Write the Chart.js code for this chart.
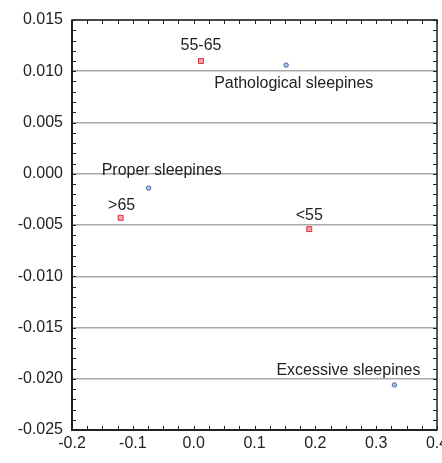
<!DOCTYPE html>
<html lang="en">
<head>
  <meta charset="UTF-8">
  <title>Sleepiness and age groups</title>
  <script src="https://cdn.jsdelivr.net/npm/chart.js"></script>
  <style>
    html, body {
      margin: 0;
      padding: 0;
      background: #fff;
    }
    #wrap {
      width: 442px;
      height: 463px;
    }
  </style>
</head>
<body>
  <div id="wrap"><canvas id="plot"></canvas></div>

  <script>
    // age groups (red squares)
    const ageLabels = ['55-65', '>65', '<55'];
    const ageX = [0.012, -0.120, 0.190];
    const ageY = [0.0110, -0.0043, -0.0054];

    // sleepiness groups (blue circles)
    const sleepLabels = ['Pathological sleepines', 'Proper sleepines', 'Excessive sleepines'];
    const sleepX = [0.152, -0.074, 0.330];
    const sleepY = [0.0106, -0.0014, -0.0206];

    // axis tick labels
    const xTicks = ['-0.2', '-0.1', '0.0', '0.1', '0.2', '0.3', '0.4'];
    const yTicks = ['-0.025', '-0.020', '-0.015', '-0.010', '-0.005', '0.000', '0.005', '0.010', '0.015'];

    const font = '"Liberation Sans", Arial, sans-serif';

    function toPoints(xs, ys) {
      return xs.map((x, i) => ({ x: x, y: ys[i] }));
    }

    // where each label sits relative to its point (pixels)
    const labelPlace = {
      '55-65': { dx: 0, dy: -11, align: 'center' },
      '>65': { dx: 1, dy: -8, align: 'center' },
      '<55': { dx: 0, dy: -9, align: 'center' },
      'Pathological sleepines': { dx: -72, dy: 23, align: 'left' },
      'Proper sleepines': { dx: -47, dy: -13, align: 'left' },
      'Excessive sleepines': { dx: -118, dy: -10, align: 'left' }
    };

    const pointLabels = {
      id: 'pointLabels',
      afterDatasetsDraw(chart) {
        const ctx = chart.ctx;
        ctx.save();
        ctx.font = '16px ' + font;
        ctx.fillStyle = '#222';
        ctx.textBaseline = 'alphabetic';
        chart.data.datasets.forEach((ds, di) => {
          const meta = chart.getDatasetMeta(di);
          meta.data.forEach((el, i) => {
            const text = ds.names[i];
            const p = labelPlace[text];
            ctx.textAlign = p.align;
            ctx.fillText(text, el.x + p.dx, el.y + p.dy);
          });
        });
        ctx.restore();
      }
    };

    // frame round the plot plus small inward ticks on all four sides
    const frame = {
      id: 'frame',
      afterDraw(chart) {
        const ctx = chart.ctx;
        const a = chart.chartArea;
        const xs = chart.scales.x;
        const ys = chart.scales.y;
        ctx.save();
        ctx.strokeStyle = '#222';
        ctx.lineWidth = 1;
        ctx.beginPath();
        for (let i = 0; i <= 24; i++) {
          const px = Math.round(xs.getPixelForValue(-0.2 + i * 0.025)) + 0.5;
          ctx.moveTo(px, a.bottom); ctx.lineTo(px, a.bottom - 4);
          ctx.moveTo(px, a.top); ctx.lineTo(px, a.top + 4);
        }
        for (let i = 0; i <= 40; i++) {
          const py = Math.round(ys.getPixelForValue(-0.025 + i * 0.001)) + 0.5;
          ctx.moveTo(a.left, py); ctx.lineTo(a.left + 4, py);
          ctx.moveTo(a.right, py); ctx.lineTo(a.right - 4, py);
        }
        ctx.stroke();
        ctx.lineWidth = 1.5;
        ctx.strokeRect(a.left, a.top, a.right - a.left, a.bottom - a.top);
        ctx.lineWidth = 2;
        ctx.beginPath();
        ctx.moveTo(a.left, a.top); ctx.lineTo(a.left, a.bottom); ctx.lineTo(a.right, a.bottom);
        ctx.stroke();
        ctx.restore();
      }
    };

    new Chart(document.getElementById('plot'), {
      type: 'scatter',
      data: {
        datasets: [
          {
            label: 'Age',
            names: ageLabels,
            data: toPoints(ageX, ageY),
            pointStyle: 'rect',
            pointRadius: 3.5,
            borderWidth: 1,
            borderColor: '#e0303c',
            backgroundColor: '#f4a4ac'
          },
          {
            label: 'Sleepiness',
            names: sleepLabels,
            data: toPoints(sleepX, sleepY),
            pointStyle: 'circle',
            pointRadius: 2.2,
            borderWidth: 1,
            borderColor: '#3d64a8',
            backgroundColor: '#b4c8e4'
          }
        ]
      },
      options: {
        responsive: true,
        maintainAspectRatio: false,
        animation: false,
        layout: { padding: { top: 20, right: 4, left: 0, bottom: 0 } },
        plugins: {
          legend: { display: false },
          tooltip: { enabled: false }
        },
        scales: {
          x: {
            type: 'linear',
            min: -0.2,
            max: 0.4,
            afterFit(scale) {
              scale.height = 33;
              scale.paddingLeft = 0;
              scale.paddingRight = 0;
            },
            afterBuildTicks(scale) {
              scale.ticks = xTicks.map(t => ({ value: parseFloat(t), label: t }));
            },
            ticks: {
              color: '#222',
              font: { family: font, size: 16 },
              padding: 4,
              maxRotation: 0,
              callback: (v, i) => xTicks[i]
            },
            grid: { display: false, drawTicks: false },
            border: { display: false }
          },
          y: {
            type: 'linear',
            min: -0.025,
            max: 0.015,
            afterFit(scale) {
              scale.width = 72;
              scale.paddingTop = 0;
              scale.paddingBottom = 0;
            },
            afterBuildTicks(scale) {
              scale.ticks = yTicks.map(t => ({ value: parseFloat(t), label: t }));
            },
            ticks: {
              color: '#222',
              font: { family: font, size: 16 },
              padding: 9,
              callback: (v, i) => yTicks[i]
            },
            grid: { color: '#a8a8a8', lineWidth: 1.5, drawTicks: false },
            border: { display: false }
          }
        }
      },
      plugins: [pointLabels, frame]
    });
  </script>
</body>
</html>
